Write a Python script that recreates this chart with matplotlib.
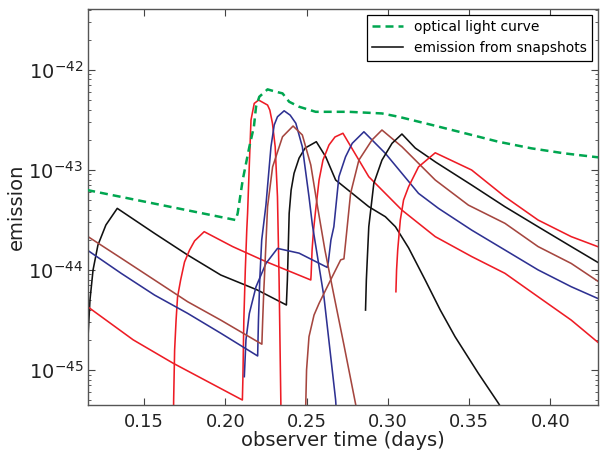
import matplotlib
matplotlib.use("Agg")
import matplotlib.pyplot as plt
from matplotlib.ticker import LogLocator, NullFormatter

# ── optical light curve (green dashed)
t_optical = [0.115, 0.2064, 0.2076, 0.2107, 0.2148, 0.2176, 0.2189, 0.2209, 0.2260,
             0.2311, 0.2352, 0.2393, 0.2454, 0.2556, 0.2699, 0.2760, 0.2964, 0.3067,
             0.3271, 0.3475, 0.3680, 0.3884, 0.4088, 0.4300]
e_optical = [6.28e-44, 3.15e-44, 3.67e-44, 7.91e-44, 1.70e-43, 2.70e-43, 4.27e-43,
             5.37e-43, 6.37e-43, 6.03e-43, 5.81e-43, 4.79e-43, 4.27e-43, 3.80e-43,
             3.80e-43, 3.80e-43, 3.66e-43, 3.39e-43, 2.81e-43, 2.32e-43, 1.91e-43,
             1.64e-43, 1.46e-43, 1.33e-43]

# ── emission from snapshots
t_black1 = [0.1155, 0.1167, 0.1186, 0.1216, 0.1265, 0.1335, 0.1564, 0.1768, 0.1972,
            0.2197, 0.2376, 0.2377, 0.2382, 0.2387, 0.2393, 0.2405, 0.2423, 0.2454,
            0.2491, 0.2560, 0.2618, 0.2679, 0.2781, 0.2883, 0.2985, 0.3047, 0.3128,
            0.3230, 0.3323, 0.3414, 0.3557, 0.3679, 0.3802]
e_black1 = [2.14e-45, 5.0e-45, 1.0e-44, 1.77e-44, 2.81e-44, 4.12e-44, 2.32e-44, 1.41e-44,
            8.89e-45, 6.30e-45, 4.46e-45, 5.0e-45, 7.93e-45, 1.58e-44, 3.67e-44, 6.28e-44,
            9.23e-44, 1.31e-43, 1.65e-43, 1.91e-43, 1.35e-43, 7.91e-44, 5.82e-44, 4.28e-44,
            3.40e-44, 2.70e-44, 1.66e-44, 7.93e-45, 3.97e-45, 2.15e-45, 9.27e-46, 4.70e-46,
            2.23e-46]

t_red1 = [0.1678, 0.1682, 0.1688, 0.1697, 0.1706, 0.1725, 0.1749, 0.1780, 0.1811, 0.1870,
          0.2045, 0.2250, 0.2526, 0.2528, 0.2534, 0.2543, 0.2556, 0.2577, 0.2601, 0.2638,
          0.2675, 0.2724, 0.2883, 0.3087, 0.3292, 0.3516, 0.3721, 0.3925, 0.4129, 0.4300]
e_red1 = [1.0e-46, 5.0e-46, 1.58e-45, 3.15e-45, 5.36e-45, 7.93e-45, 1.20e-44, 1.58e-44,
          1.95e-44, 2.41e-44, 1.71e-44, 1.21e-44, 7.93e-45, 8.89e-45, 1.58e-44, 2.50e-44,
          3.96e-44, 7.91e-44, 1.25e-43, 1.77e-43, 2.13e-43, 2.32e-43, 8.53e-44, 3.96e-44,
          2.15e-44, 1.36e-44, 9.24e-45, 5.39e-45, 3.15e-45, 1.85e-45]

t_red2 = [0.1155, 0.1433, 0.1678, 0.2105, 0.2108, 0.2114, 0.2123, 0.2132, 0.2137, 0.2148,
          0.2158, 0.2178, 0.2205, 0.2260, 0.2274, 0.2290, 0.2307, 0.2321, 0.2331, 0.2342,
          0.2347]
e_red2 = [4.26e-45, 2.0e-45, 1.17e-45, 5.01e-46, 7.94e-46, 3.15e-45, 1.0e-44, 2.50e-44,
          3.67e-44, 1.16e-43, 3.14e-43, 4.61e-43, 4.98e-43, 4.44e-43, 3.95e-43, 2.92e-43,
          1.70e-43, 5.38e-44, 7.93e-45, 4.47e-46, 1.0e-46]

t_blue1 = [0.1155, 0.1359, 0.1564, 0.1768, 0.1972, 0.2199, 0.2204, 0.2212, 0.2224, 0.2250,
           0.2281, 0.2301, 0.2321, 0.2362, 0.2399, 0.2434, 0.2474, 0.2515, 0.2536, 0.2607,
           0.2679, 0.2705]
e_blue1 = [1.56e-44, 9.24e-45, 5.61e-45, 3.68e-45, 2.33e-45, 1.38e-45, 3.15e-45, 7.93e-45,
           1.99e-44, 4.44e-44, 1.70e-43, 2.81e-43, 3.39e-43, 3.89e-43, 3.52e-43, 2.92e-43,
           1.70e-43, 5.38e-44, 2.81e-44, 5.39e-45, 5.01e-46, 1.0e-46]

t_blue2 = [0.2117, 0.2127, 0.2148, 0.2189, 0.2250, 0.2321, 0.2454, 0.2627, 0.2634, 0.2650,
           0.2668, 0.2699, 0.2740, 0.2781, 0.2853, 0.2985, 0.3189, 0.3312, 0.3516, 0.3721,
           0.3925, 0.4129, 0.4300]
e_blue2 = [8.57e-46, 2.0e-45, 3.68e-45, 6.79e-45, 1.16e-44, 1.64e-44, 1.47e-44, 1.06e-44,
           1.20e-44, 1.99e-44, 2.70e-44, 8.53e-44, 1.35e-43, 1.84e-43, 2.40e-43, 1.46e-43,
           5.82e-44, 4.12e-44, 2.50e-44, 1.58e-44, 1.0e-44, 6.79e-45, 5.12e-45]

t_brown1 = [0.1155, 0.1359, 0.1564, 0.1768, 0.1972, 0.2225, 0.2230, 0.2237, 0.2240, 0.2260,
            0.2291, 0.2352, 0.2417, 0.2474, 0.2526, 0.2566, 0.2613, 0.2668, 0.2730, 0.2803,
            0.2835]
e_brown1 = [2.15e-44, 1.31e-44, 7.93e-45, 4.81e-45, 3.15e-45, 1.81e-45, 3.15e-45, 6.30e-45,
            7.93e-45, 4.28e-44, 1.07e-43, 2.14e-43, 2.74e-43, 2.23e-43, 1.12e-43, 4.44e-44,
            1.58e-44, 5.61e-45, 1.78e-45, 4.47e-46, 1.0e-46]

t_brown2 = [0.2492, 0.2495, 0.2500, 0.2515, 0.2546, 0.2577, 0.2658, 0.2710, 0.2730, 0.2740,
            0.2771, 0.2822, 0.2903, 0.2964, 0.3087, 0.3292, 0.3496, 0.3721, 0.3925, 0.4129,
            0.4300]
e_brown2 = [1.0e-46, 4.47e-46, 1.0e-45, 2.15e-45, 3.54e-45, 4.63e-45, 8.55e-45, 1.26e-44,
            1.29e-44, 1.85e-44, 5.82e-44, 1.25e-43, 1.99e-43, 2.50e-43, 1.70e-43, 7.91e-44,
            4.44e-44, 2.92e-44, 1.71e-44, 1.16e-44, 7.57e-45]

t_black2 = [0.2863, 0.2868, 0.2873, 0.2883, 0.2914, 0.2964, 0.3026, 0.3087, 0.3169, 0.3296,
            0.3516, 0.3721, 0.3925, 0.4129, 0.4300]
e_black2 = [3.97e-45, 7.93e-45, 1.20e-44, 2.70e-44, 7.33e-44, 1.25e-43, 1.84e-43, 2.28e-43,
            1.65e-43, 1.19e-43, 7.05e-44, 4.28e-44, 2.70e-44, 1.71e-44, 1.17e-44]

t_red3 = [0.3050, 0.3054, 0.3061, 0.3077, 0.3097, 0.3128, 0.3189, 0.3292, 0.3516, 0.3721,
          0.3925, 0.4129, 0.4300]
e_red3 = [6.05e-45, 1.0e-44, 1.58e-44, 3.15e-44, 4.99e-44, 6.78e-44, 1.07e-43, 1.48e-43,
          9.96e-44, 5.38e-44, 3.15e-44, 2.15e-44, 1.69e-44]

x_ticks = [0.15, 0.20, 0.25, 0.30, 0.35, 0.40]
x_ticklabels = ["0.15", "0.20", "0.25", "0.30", "0.35", "0.40"]
y_ticks = [1e-45, 1e-44, 1e-43, 1e-42]

RED, BLUE, BROWN, BLACK = "#ee1c25", "#2e3192", "#a5463f", "#111111"
GREEN = "#00a650"
LW = 1.15

plt.rcParams.update({
    "font.family": "DejaVu Sans",
    "xtick.direction": "in",
    "ytick.direction": "in",
    "xtick.top": True,
    "ytick.right": True,
})

fig = plt.figure(figsize=(6, 4.51), dpi=100)
ax = fig.add_axes([0.1467, 0.102, 0.8495, 0.878])

ax.plot(t_optical, e_optical, color=GREEN, lw=1.8, ls=(0, (3.2, 2.0)),
        label="optical light curve", zorder=3)
ax.plot(t_black1, e_black1, color=BLACK, lw=LW, label="emission from snapshots")
ax.plot(t_red1, e_red1, color=RED, lw=LW)
ax.plot(t_red2, e_red2, color=RED, lw=LW)
ax.plot(t_blue1, e_blue1, color=BLUE, lw=LW)
ax.plot(t_blue2, e_blue2, color=BLUE, lw=LW)
ax.plot(t_brown1, e_brown1, color=BROWN, lw=LW)
ax.plot(t_brown2, e_brown2, color=BROWN, lw=LW)
ax.plot(t_black2, e_black2, color=BLACK, lw=LW)
ax.plot(t_red3, e_red3, color=RED, lw=LW)

ax.set_yscale("log")
ax.set_xlim(0.1155, 0.4292)
ax.set_ylim(10 ** -45.35, 10 ** -41.393)
ax.set_xticks(x_ticks)
ax.set_xticklabels(x_ticklabels)
ax.set_yticks(y_ticks)
ax.yaxis.set_minor_locator(LogLocator(base=10, subs=range(2, 10), numticks=10))
ax.yaxis.set_minor_formatter(NullFormatter())

ax.tick_params(which="major", length=5, width=0.8, labelsize=14, colors="#444444",
               labelcolor="#222222")
ax.tick_params(which="minor", length=2.5, width=0.6, colors="#444444")
ax.tick_params(axis="x", labelsize=13, pad=6)
for s in ax.spines.values():
    s.set_color("#555555")
    s.set_linewidth(1.0)

ax.set_xlabel("observer time (days)", fontsize=14, labelpad=0, color="#222222")
ax.set_ylabel("emission", fontsize=14, labelpad=2, color="#222222")

leg = ax.legend(loc="upper right", fontsize=10, fancybox=False, framealpha=1,
                edgecolor="black", handlelength=2.2, borderaxespad=0.4)
leg.get_frame().set_linewidth(0.9)

fig.savefig("out.png", dpi=100)
